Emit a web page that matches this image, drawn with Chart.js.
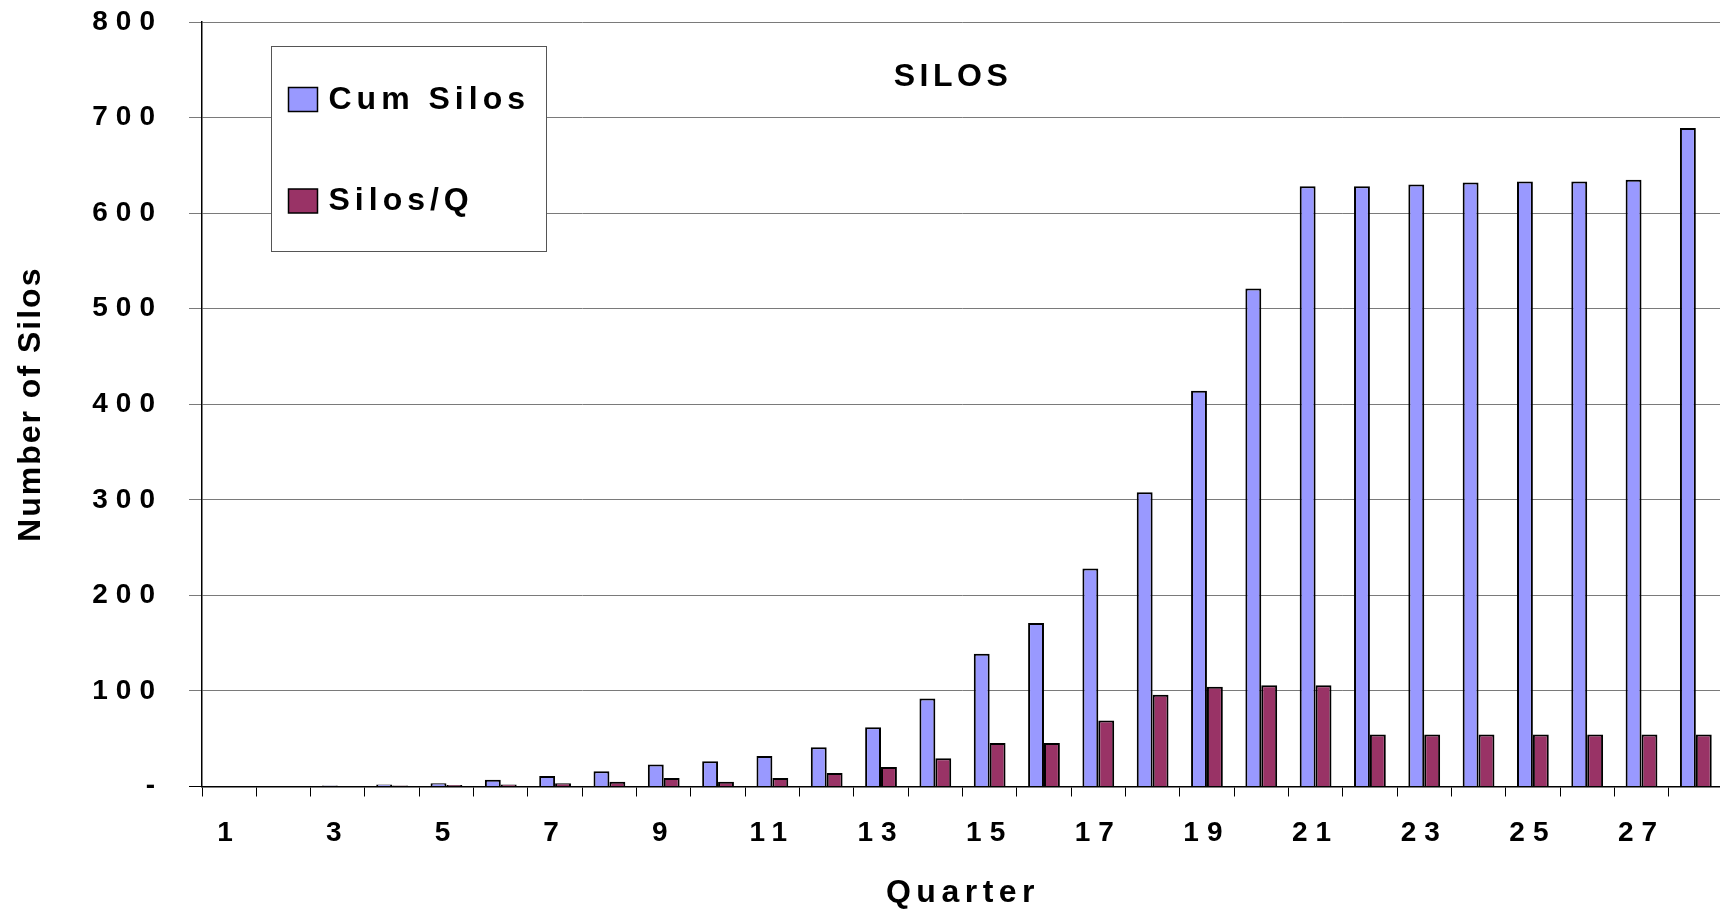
<!DOCTYPE html>
<html>
<head>
<meta charset="utf-8">
<title>SILOS</title>
<script src="https://cdn.jsdelivr.net/npm/chart.js@4.4.1/dist/chart.umd.min.js"></script>
<style>
  html, body { margin: 0; padding: 0; background: #fff; overflow: hidden; width: 1720px; height: 911px; }
  canvas { display: block; }
</style>
</head>
<body>
<canvas id="silos" width="1724" height="911"></canvas>
<script>
// Quarters shown on the category axis
const quarters = ['1','2','3','4','5','6','7','8','9','10','11','12','13','14',
                  '15','16','17','18','19','20','21','22','23','24','25','26','27','28'];

// Cumulative number of silos at each quarter
const cumSilos = [0, 0, 1, 2, 3.5, 7, 11, 16, 23, 26.5, 32, 41, 62, 92,
                  139, 171, 228, 308, 414, 521, 628, 628, 630, 632, 633, 633, 635, 689];

// Silos added in each quarter
const silosPerQ = [0, 0, 0, 1, 1.5, 2, 3.5, 5, 9, 5, 9, 14, 20.5, 29.5,
                   45.5, 45.5, 69, 96, 104.5, 106, 106, 54.5, 54.5, 54.5, 54.5, 54.5, 54.5, 54.5];

const seriesNames = ['Cum Silos', 'Silos/Q'];
const seriesColors = ['#9999FF', '#993366'];
const chartTitle = 'SILOS';
const xTitle = 'Quarter';
const yTitle = 'Number of Silos';
const yMax = 800;
const yStep = 100;

const FONT = '"Liberation Sans", Arial, Helvetica, sans-serif';
const TICK_SPACING = '8px';

// Wide-tracked bold lettering plus the titles and the boxed key
const chartText = {
  id: 'chartText',
  beforeUpdate(chart) { chart.ctx.letterSpacing = TICK_SPACING; },
  beforeDraw(chart) { chart.ctx.letterSpacing = TICK_SPACING; },
  afterDraw(chart) {
    const ctx = chart.ctx;
    const area = chart.chartArea;
    ctx.save();
    ctx.fillStyle = '#000';
    ctx.textBaseline = 'alphabetic';

    // heading inside the plot
    ctx.font = 'bold 32px ' + FONT;
    ctx.letterSpacing = '4.5px';
    ctx.textAlign = 'center';
    ctx.fillText(chartTitle, area.left + 751, area.top + 64);

    // category axis title
    ctx.letterSpacing = '5.5px';
    ctx.fillText(xTitle, area.left + 761, area.bottom + 115);

    // value axis title
    ctx.save();
    ctx.letterSpacing = '2px';
    ctx.translate(40, (area.top + area.bottom) / 2 + 1);
    ctx.rotate(-Math.PI / 2);
    ctx.textAlign = 'center';
    ctx.fillText(yTitle, 1, 0);
    ctx.restore();

    // key box
    const bx = area.left + 69.5, by = area.top + 24.5, bw = 275, bh = 205;
    ctx.fillStyle = '#fff';
    ctx.fillRect(bx, by, bw, bh);
    ctx.strokeStyle = '#555';
    ctx.lineWidth = 1;
    ctx.strokeRect(bx, by, bw, bh);

    ctx.textAlign = 'left';
    ctx.letterSpacing = '5px';
    chart.data.datasets.forEach((ds, i) => {
      const sy = by + 41 + i * 101.5;
      ctx.fillStyle = ds.backgroundColor;
      ctx.fillRect(bx + 17, sy, 29, 24);
      ctx.strokeStyle = '#000';
      ctx.lineWidth = 1.5;
      ctx.strokeRect(bx + 17, sy, 29, 24);
      ctx.fillStyle = '#000';
      ctx.fillText(ds.label, bx + 57, sy + 21);
    });
    ctx.restore();
  }
};

new Chart(document.getElementById('silos'), {
  type: 'bar',
  data: {
    labels: quarters,
    datasets: [
      { label: seriesNames[0], data: cumSilos, backgroundColor: seriesColors[0] },
      { label: seriesNames[1], data: silosPerQ, backgroundColor: seriesColors[1] }
    ]
  },
  options: {
    responsive: false,
    animation: false,
    devicePixelRatio: 1,
    layout: { padding: { top: 22, left: 0, right: 1, bottom: 0 } },
    datasets: {
      bar: {
        borderColor: '#000',
        borderWidth: 2,
        barPercentage: 1,
        categoryPercentage: 0.585
      }
    },
    plugins: {
      legend: { display: false },
      title: { display: false },
      tooltip: { enabled: false }
    },
    scales: {
      x: {
        offset: true,
        grid: { offset: true, drawOnChartArea: false, drawTicks: true, tickLength: 10, color: '#000', lineWidth: 1 },
        border: { display: true, color: '#000', width: 1.5 },
        ticks: {
          autoSkip: false,
          maxRotation: 0,
          padding: 20,
          color: '#000',
          font: { family: FONT, size: 28, weight: 'bold' },
          callback: (v, i) => (i % 2 === 0 ? quarters[i] : '')
        },
        afterFit: (scale) => {
          scale.height = 124.5;
          scale.paddingLeft = 0;
          scale.paddingRight = 0;
        }
      },
      y: {
        min: 0,
        max: yMax,
        grid: {
          drawTicks: true,
          tickLength: 13,
          lineWidth: 1,
          color: (c) => (c.tick && c.tick.value === 0 ? '#000' : '#7a7a7a')
        },
        border: { display: true, color: '#000', width: 1.5 },
        ticks: {
          stepSize: yStep,
          padding: 26,
          color: '#000',
          font: { family: FONT, size: 28, weight: 'bold' },
          callback: (v) => (v === 0 ? '-' : String(v))
        },
        afterFit: (scale) => {
          scale.width = 202;
          scale.paddingTop = 0;
          scale.paddingBottom = 0;
        }
      }
    }
  },
  plugins: [chartText]
});
</script>
</body>
</html>
